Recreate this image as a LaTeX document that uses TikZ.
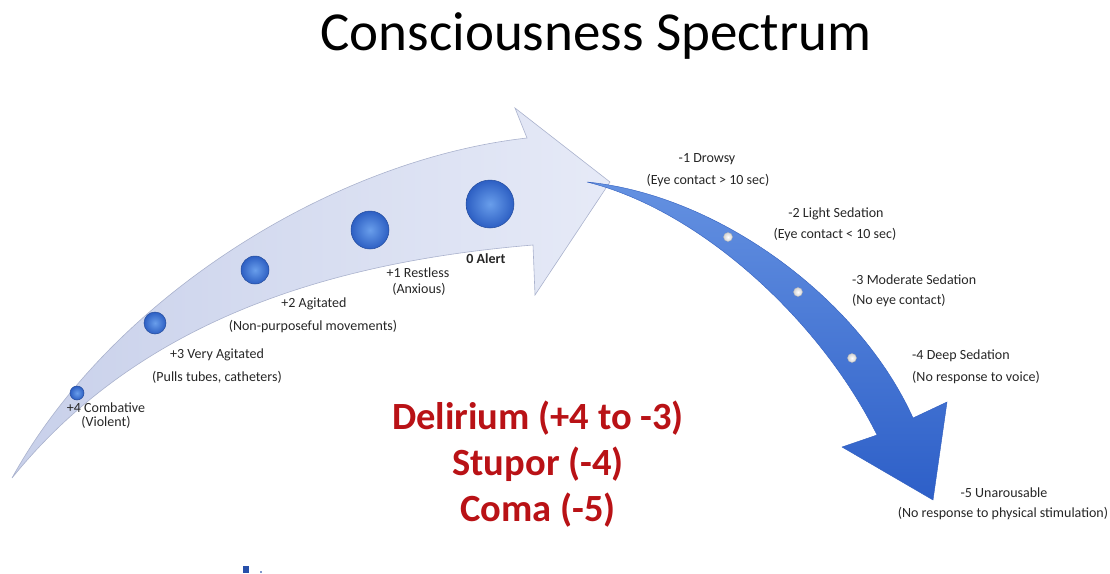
\documentclass[tikz,border=0pt]{standalone}
\usepackage{fontspec}
\setmainfont{Carlito}
\definecolor{lightA}{RGB}{200,208,234}
\definecolor{lightB}{RGB}{230,234,247}
\definecolor{lightedge}{RGB}{170,178,205}
\definecolor{darkA}{RGB}{100,145,225}
\definecolor{darkB}{RGB}{45,95,200}
\definecolor{darkedge}{RGB}{50,95,190}
\definecolor{ballin}{RGB}{105,158,235}
\definecolor{ballout}{RGB}{45,95,195}
\definecolor{delred}{RGB}{185,18,22}
\definecolor{markblue}{RGB}{40,80,170}
\begin{document}
\begin{tikzpicture}[x=1pt,y=-1pt,
  lbl/.style={font=\fontsize{14}{17}\selectfont, anchor=base, inner sep=0pt, text=black!85},
  lblleft/.style={lbl, anchor=base west},
  redtxt/.style={font=\fontsize{38.5}{42}\selectfont\bfseries, text=delred, anchor=base, inner sep=0pt},
  bigball/.style={circle, inner sep=0pt, draw=ballout!80!black, line width=0.5pt, inner color=ballin, outer color=ballout},
  dot/.style={circle, inner sep=0pt, minimum size=9pt, draw=gray!60, line width=0.3pt, inner color=white, outer color=gray!35}
]
\useasboundingbox (0,0) rectangle (1110,573);

% title
\node[font=\fontsize{55}{60}\selectfont, anchor=base, inner sep=0pt] (title) at (596,50) {Consciousness Spectrum};

% light arrow
\draw[draw=lightedge, line width=0.6pt, left color=lightA, right color=lightB]
  (12,478) .. controls (110,300) and (330,160) .. (527,138) -- (515,108) -- (610,182)
  -- (535,295) -- (533,245) .. controls (330,262) and (140,320) .. (12,478) -- cycle;

% balls on light arrow
\node[bigball, minimum size=14pt] (b4) at (77,393) {};
\node[bigball, minimum size=22pt] (b3) at (155,323) {};
\node[bigball, minimum size=28pt] (b2) at (255,270) {};
\node[bigball, minimum size=38pt] (b1) at (370,230) {};
\node[bigball, minimum size=48pt] (b0) at (490,204) {};

% dark arrow
\draw[draw=darkedge, line width=0.4pt, top color=darkA, bottom color=darkB]
  (587,182) .. controls (720,195) and (860,300) .. (913,418) -- (947,402) -- (933,500)
  -- (842,447) -- (877,435) .. controls (820,320) and (700,210) .. (587,182) -- cycle;

\node[dot] (d2) at (728,237) {};
\node[dot] (d3) at (798,292) {};
\node[dot] (d4) at (852,358) {};

% labels left
\node[lbl] (l4a) at (106,412) {+4 Combative};
\node[lbl] (l4b) at (106,426) {(Violent)};
\node[lbl] (l3a) at (217,358) {+3 Very Agitated};
\node[lbl] (l3b) at (217,381) {(Pulls tubes, catheters)};
\node[lbl] (l2a) at (314,307) {+2 Agitated};
\node[lbl] (l2b) at (313,330) {(Non-purposeful movements)};
\node[lbl] (l1a) at (418,277) {+1 Restless};
\node[lbl] (l1b) at (419,293) {(Anxious)};
\node[lbl, font=\fontsize{14}{17}\selectfont\bfseries] (l0) at (486,263) {0 Alert};

% labels right
\node[lbl] (m1a) at (707,162) {-1 Drowsy};
\node[lbl] (m1b) at (708,184) {(Eye contact > 10 sec)};
\node[lbl] (m2a) at (836,217) {-2 Light Sedation};
\node[lbl] (m2b) at (835,238) {(Eye contact < 10 sec)};
\node[lblleft] (m3a) at (852,284) {-3 Moderate Sedation};
\node[lblleft] (m3b) at (852,304) {(No eye contact)};
\node[lblleft] (m4a) at (912,359) {-4 Deep Sedation};
\node[lblleft] (m4b) at (912,381) {(No response to voice)};
\node[lbl] (m5a) at (1004,497) {-5 Unarousable};
\node[lbl] (m5b) at (1003,517) {(No response to physical stimulation)};

% red text
\node[redtxt] (del) at (538,429) {Delirium (+4 to -3)};
\node[redtxt] (stu) at (538,475) {Stupor (-4)};
\node[redtxt] (com) at (538,521) {Coma (-5)};

% small mark
\fill[markblue] (243,566) rectangle (249,573);
\fill[markblue!60] (260,571) rectangle (262,573);
\end{tikzpicture}
\end{document}
